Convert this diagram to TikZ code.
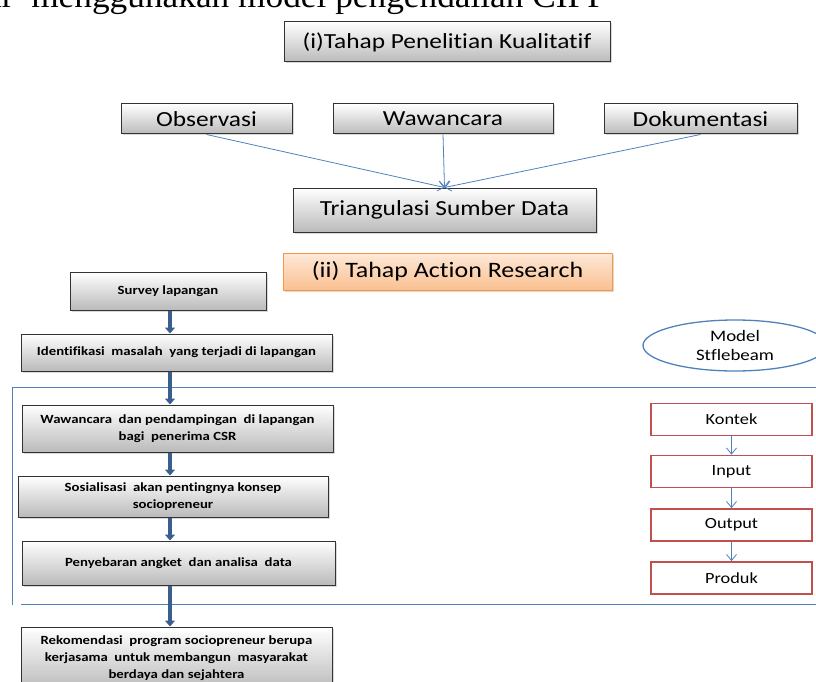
\documentclass[tikz,border=0pt]{standalone}
\usepackage{fontspec}
\setmainfont{Carlito}[FakeStretch=1.18, Ligatures=NoCommon]
\newfontfamily\headfont{Liberation Serif}[FakeStretch=1.07]
\usetikzlibrary{arrows.meta,shapes.geometric,shadows}

\definecolor{lineblue}{RGB}{79,129,189}
\definecolor{arrowblue}{RGB}{58,95,140}
\definecolor{boxred}{RGB}{192,80,77}
\definecolor{orangeline}{RGB}{247,150,70}
\definecolor{orangetop}{RGB}{253,233,217}
\definecolor{orangebot}{RGB}{250,192,144}

\begin{document}
\begin{tikzpicture}[x=1pt, y=-1pt,
    graybox/.style={draw=black!80, line width=1pt, top color=white, bottom color=black!27,
        drop shadow={shadow xshift=1.5pt, shadow yshift=-1.5pt, opacity=0.3},
        inner sep=0pt, align=center},
    bigbox/.style={graybox, font=\fontsize{21.5}{25}\selectfont},
    stepbox/.style={graybox, font=\bfseries\fontsize{12.5}{17}\selectfont},
    orangebox/.style={draw=orangeline, line width=1pt, top color=orangetop, bottom color=orangebot,
        drop shadow={shadow xshift=1.5pt, shadow yshift=-1.5pt, opacity=0.3},
        inner sep=0pt, font=\fontsize{22}{26}\selectfont},
    redbox/.style={draw=boxred, line width=1.8pt, fill=white, inner sep=0pt,
        minimum width=161pt, minimum height=32pt, font=\fontsize{15.5}{18}\selectfont},
    thinarrow/.style={-{Straight Barb[length=6pt,width=10pt]}, color=lineblue, line width=0.8pt},
    bigarrow/.style={-{Triangle[length=6pt,width=10pt]}, draw=arrowblue, line width=4.5pt}]

    \useasboundingbox (0,0) rectangle (816,682);

    % Heading line (cut at the top)
    \node [anchor=base west, inner sep=0pt, font=\headfont\fontsize{33}{36}\selectfont]
        (headline) at (-14,8) {ar\ \ menggunakan model pengendalian CIPP};

    % Nodes {phase i}
    \node [bigbox, minimum width=326pt, minimum height=40pt]  (phaseone) at (447,42)    {(i)Tahap Penelitian Kualitatif};
    \node [bigbox, minimum width=171pt, minimum height=30pt]  (obs)      at (206.5,119) {Observasi};
    \node [bigbox, minimum width=220pt, minimum height=30pt]  (waw)      at (443,119)   {Wawancara};
    \node [bigbox, minimum width=193pt, minimum height=30pt]  (dok)      at (700.5,119) {Dokumentasi};
    \node [bigbox, minimum width=303pt, minimum height=44pt]  (tri)      at (444.5,210) {Triangulasi Sumber Data};

    % Nodes {phase ii}
    \node [orangebox, minimum width=329pt, minimum height=37pt] (phasetwo) at (447.5,271.5) {(ii) Tahap Action Research};
    \node [stepbox, minimum width=196pt, minimum height=38pt] (survey) at (168,291)   {Survey lapangan};
    \node [stepbox, minimum width=311pt, minimum height=37pt] (ident)  at (176.5,352.5) {Identifikasi\ \ masalah\ \ yang terjadi di lapangan};
    \node [stepbox, minimum width=311pt, minimum height=47pt] (interv) at (177.5,428.5) {Wawancara\ \ dan pendampingan\ \ di lapangan\\bagi\ \ penerima CSR};
    \node [stepbox, minimum width=310pt, minimum height=41pt] (sosial) at (173,496.5)   {Sosialisasi\ \ akan pentingnya konsep\\sociopreneur};
    \node [stepbox, minimum width=313pt, minimum height=44pt] (angket) at (178.5,563)   {Penyebaran angket\ \ dan analisa\ \ data};
    \node [stepbox, minimum width=311pt, minimum height=63pt] (rekom)  at (176.5,658.5) {Rekomendasi\ \ program sociopreneur berupa\\kerjasama\ \ untuk membangun\ \ masyarakat\\berdaya dan sejahtera};

    % Nodes {model}
    \node [ellipse, draw=lineblue, line width=1.3pt, minimum width=184pt, minimum height=51pt,
        inner sep=0pt, align=center, font=\fontsize{16}{19}\selectfont] (model) at (735,345.5) {Model\\Stflebeam};
    \node [redbox] (kontek) at (731.5,419.5) {Kontek};
    \node [redbox] (input)  at (731.5,471.5) {Input};
    \node [redbox] (output) at (731.5,525)   {Output};
    \node [redbox] (produk) at (731.5,578)   {Produk};

    % Frame round the action steps
    \draw [lineblue, line width=0.9pt] (816,387) -- (12,387) -- (12,605);
    \draw [lineblue, line width=0.9pt] (21,604) -- (816,604);

    % Paths
    \path [thinarrow] (obs.south) edge (tri.north);
    \path [thinarrow] (waw.south) edge (tri.north);
    \path [thinarrow] (dok.south) edge (tri.north);

    \coordinate (spine) at (170,0);
    \draw [bigarrow] (survey.south -| spine) -- (ident.north -| spine);
    \draw [bigarrow] (ident.south -| spine)  -- (interv.north -| spine);
    \draw [bigarrow] (interv.south -| spine) -- (sosial.north -| spine);
    \draw [bigarrow] (sosial.south -| spine) -- (angket.north -| spine);
    \draw [bigarrow] (angket.south -| spine) -- (rekom.north -| spine);

    \path [thinarrow] (kontek) edge (input);
    \path [thinarrow] (input)  edge (output);
    \path [thinarrow] (output) edge (produk);

\end{tikzpicture}
\end{document}
